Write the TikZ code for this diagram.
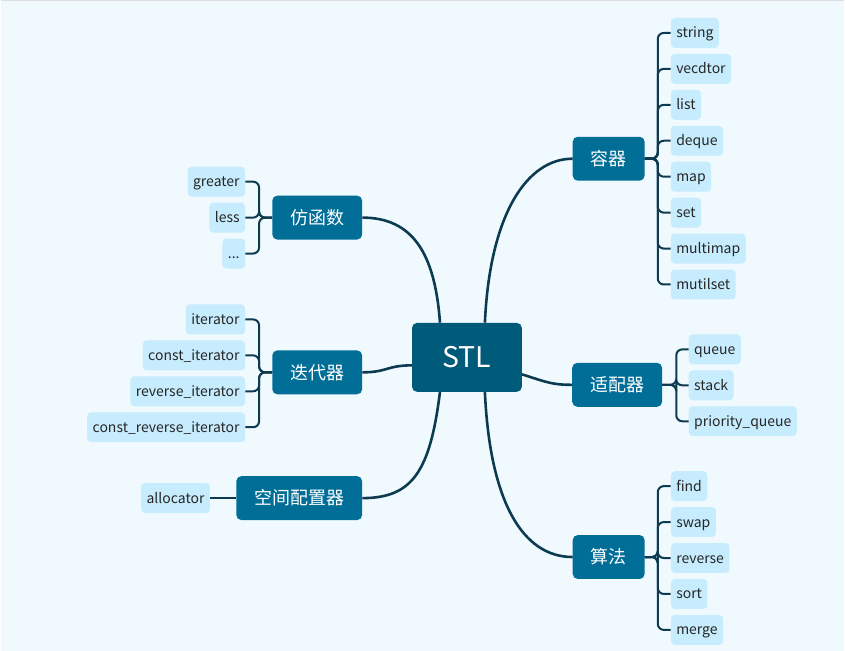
\documentclass[tikz,border=0pt]{standalone}
\usepackage{fontspec}
\setmainfont{Noto Sans CJK SC}
\usepackage{tikz}
\usetikzlibrary{positioning}
\definecolor{bgblue}{HTML}{F0FAFE}
\definecolor{rootblue}{HTML}{005A7A}
\definecolor{topicblue}{HTML}{006E97}
\definecolor{leafblue}{HTML}{C7ECFD}
\definecolor{linedark}{HTML}{0C3A50}
\tikzset{
    stl map/.style={
            x=1pt,y=-1pt,
            root/.style={fill=rootblue,text=white,rounded corners=5pt,minimum width=110pt,minimum height=69pt,text height=20.5pt,text depth=0pt,font=\fontsize{28.5}{30}\selectfont},
            topic/.style={fill=topicblue,text=white,rounded corners=5pt,inner xsep=18pt,minimum height=44pt,font=\fontsize{18}{20}\selectfont},
            leaf/.style={fill=leafblue,text=black!85,rounded corners=4pt,inner xsep=5.5pt,minimum height=30pt,text height=11pt,text depth=1pt,font=\fontsize{14}{16}\selectfont},
            branch/.style={linedark,line width=2.6pt},
            bracket/.style={linedark,line width=2pt,rounded corners=6pt}
        }
    }
\begin{document}
\begin{tikzpicture}[stl map]
                \fill [bgblue] (0,0) rectangle (845,652);
                \draw [black!12,line width=1.5pt] (0,0.75) -- (845,0.75);
                \node [root] (stl) at (467,358) {STL};
                \node [topic] (con) at (609,159) {容器};
                \node [topic] (ada) at (617.5,385.5) {适配器};
                \node [topic] (alg) at (609,558) {算法};
                \node [topic] (fun) at (317,218) {仿函数};
                \node [topic] (ite) at (317,373) {迭代器};
                \node [topic] (all) at (299,499) {空间配置器};
                % main branches
                \draw [branch] ([xshift=18pt]stl.north) .. controls +(5,-110) and +(-45,0) .. (con.west);
                \draw [branch] ([yshift=-17pt]stl.east) .. controls +(25,8) and +(-20,0) .. (ada.west);
                \draw [branch] ([xshift=18pt]stl.south) .. controls +(5,110) and +(-50,0) .. (alg.west);
                \draw [branch] ([xshift=-27pt]stl.north) .. controls +(-5,-70) and +(50,0) .. (fun.east);
                \draw [branch] ([yshift=-8pt]stl.west) .. controls +(-25,0) and +(25,0) .. (ite.east);
                \draw [branch] ([xshift=-27pt]stl.south) .. controls +(-10,80) and +(50,0) .. (all.east);
                % leaves
                \foreach \t [count=\i] in {string,vecdtor,list,deque,map,set,multimap,mutilset} {
                    \node [leaf,anchor=west] (con\i) at (671,{33+36*(\i-1)}) {\t};
                    \draw [bracket] (con.east) -- ++(13,0) |- (con\i.west);
                }
                \foreach \t [count=\i] in {queue,stack,priority\_queue} {
                    \node [leaf,anchor=west] (ada\i) at (689,{350+36*(\i-1)}) {\t};
                    \draw [bracket] (ada.east) -- ++(14,0) |- (ada\i.west);
                }
                \foreach \t [count=\i] in {find,swap,reverse,sort,merge} {
                    \node [leaf,anchor=west] (alg\i) at (671,{487+36*(\i-1)}) {\t};
                    \draw [bracket] (alg.east) -- ++(13,0) |- (alg\i.west);
                }
                \foreach \t [count=\i] in {greater,less,.{}.{}.} {
                    \node [leaf,anchor=east] (fun\i) at (245,{182+36*(\i-1)}) {\t};
                    \draw [bracket] (fun.west) -- ++(-13,0) |- (fun\i.east);
                }
                \foreach \t [count=\i] in {iterator,const\_iterator,reverse\_iterator,const\_reverse\_iterator} {
                    \node [leaf,anchor=east] (ite\i) at (245,{320+36*(\i-1)}) {\t};
                    \draw [bracket] (ite.west) -- ++(-13,0) |- (ite\i.east);
                }
                \node [leaf] (all1) [left=26pt of all] {allocator};
                \draw [bracket] (all.west) -- (all1.east);
            \end{tikzpicture}
\end{document}
